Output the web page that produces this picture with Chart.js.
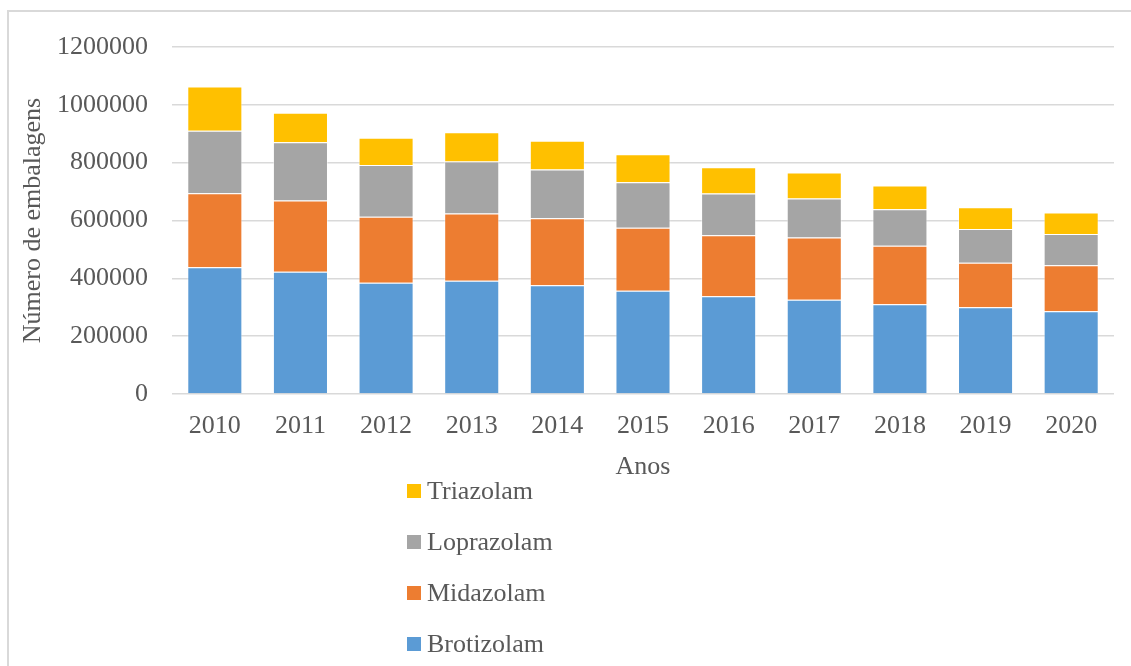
<!DOCTYPE html>
<html>
<head>
<meta charset="utf-8">
<script src="https://cdn.jsdelivr.net/npm/chart.js@4/dist/chart.umd.min.js"></script>
<style>
  body { margin: 0; background: #fff; }
  #wrap { position: relative; width: 1131px; height: 666px; overflow: hidden; }
  #frame {
    position: absolute; left: 7px; top: 10px; width: 1200px; height: 700px;
    border-left: 2px solid #d9d9d9; border-top: 2px solid #d9d9d9;
  }
  #grafico { position: absolute; left: 0; top: 0; }
</style>
</head>
<body>
<div id="wrap">
  <div id="frame"></div>
  <canvas id="grafico" width="1131" height="666"></canvas>
</div>
<script>
// anos e número de embalagens por substância
const anos = ["2010", "2011", "2012", "2013", "2014", "2015", "2016", "2017", "2018", "2019", "2020"];
const brotizolam = [438000, 423000, 385000, 392000, 376000, 357000, 338000, 326000, 310000, 300000, 286000];
const midazolam = [256000, 246000, 228000, 232000, 232000, 218000, 211000, 215000, 203000, 154000, 159000];
const loprazolam = [216000, 202000, 179000, 180000, 168000, 157000, 144000, 135000, 126000, 117000, 108000];
const triazolam = [153000, 102000, 94000, 101000, 100000, 97000, 91000, 90000, 82000, 75000, 75000];
const yTicks = [0, 200000, 400000, 600000, 800000, 1000000, 1200000];

const fonte = "'Liberation Serif', 'Times New Roman', serif";
const corTexto = "#595959";
const corGrelha = "#d9d9d9";

/** legenda vertical por baixo do título do eixo x (ordem invertida, como no Excel) */
const legendaVertical = {
  id: "legendaVertical",
  afterDraw(chart) {
    const { ctx } = chart;
    const xScale = chart.scales.x;
    const left = 407;
    const caixa = 14;
    const linha = 51;
    let y = xScale.bottom + 7;
    ctx.save();
    ctx.font = "26px " + fonte;
    ctx.textBaseline = "middle";
    ctx.textAlign = "left";
    const sets = chart.data.datasets.slice().reverse();
    sets.forEach((ds) => {
      ctx.fillStyle = ds.backgroundColor;
      ctx.fillRect(left, y - caixa / 2, caixa, caixa);
      ctx.fillStyle = corTexto;
      ctx.fillText(ds.label, left + 20, y + 1);
      y += linha;
    });
    ctx.restore();
  },
};

const serie = (label, data, cor) => ({
  label: label,
  data: data,
  backgroundColor: cor,
  borderColor: "rgba(255,255,255,0.45)",
  borderWidth: 1,
  barPercentage: 0.643,
  categoryPercentage: 1,
});

const ctx = document.getElementById("grafico").getContext("2d");
const chart = new Chart(ctx, {
  type: "bar",
  plugins: [legendaVertical],
  data: {
    labels: anos,
    datasets: [
      serie("Brotizolam", brotizolam, "#5b9bd5"),
      serie("Midazolam", midazolam, "#ed7d31"),
      serie("Loprazolam", loprazolam, "#a5a5a5"),
      serie("Triazolam", triazolam, "#ffc000"),
    ],
  },
  options: {
    responsive: false,
    animation: false,
    layout: { padding: { left: 0, top: 47, right: 17, bottom: 182 } },
    plugins: {
      legend: { display: false },
      tooltip: { enabled: false },
    },
    scales: {
      x: {
        stacked: true,
        afterFit: (scale) => { scale.height = 90; },
        grid: { display: false, drawTicks: false },
        border: { display: false },
        ticks: {
          padding: 17,
          color: corTexto,
          font: { family: fonte, size: 26 },
          maxRotation: 0,
        },
        title: {
          display: true,
          text: "Anos",
          color: corTexto,
          font: { family: fonte, size: 26 },
          padding: { top: 0, bottom: 1 },
        },
      },
      y: {
        stacked: true,
        min: 0,
        max: 1200000,
        afterFit: (scale) => { scale.width = 172; },
        afterBuildTicks: (scale) => {
          scale.ticks = yTicks.map((v) => ({ value: v }));
        },
        grid: { color: corGrelha, lineWidth: 1.5, drawTicks: false },
        border: { display: false },
        ticks: {
          padding: 24,
          color: corTexto,
          font: { family: fonte, size: 26 },
          callback: (v) => String(v),
        },
        title: {
          display: true,
          text: "Número de embalagens",
          color: corTexto,
          font: { family: fonte, size: 26 },
          padding: { top: 18, bottom: 0 },
        },
      },
    },
  },
});
</script>
</body>
</html>
